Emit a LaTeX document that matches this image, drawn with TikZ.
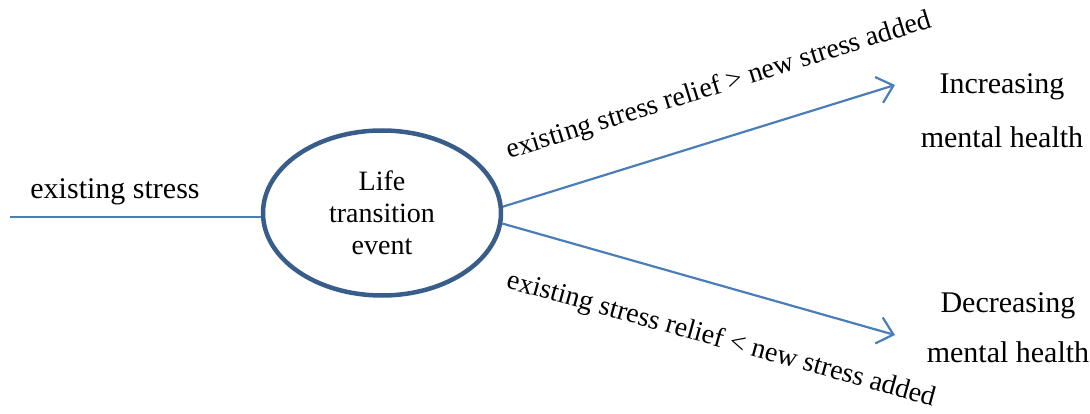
\documentclass[tikz,border=0pt]{standalone}
\usepackage{fontspec}
\setmainfont{Liberation Serif}
\usetikzlibrary{shapes.geometric,arrows.meta}
\definecolor{linec}{HTML}{4A7EBB}
\definecolor{ellc}{HTML}{385D8A}
\begin{document}
\begin{tikzpicture}[x=1pt,y=-1pt,
  conn/.style={draw=linec,line width=2.2pt},
  arr/.style={conn,-{Straight Barb[length=15pt,width=27pt]}},
  lbl/.style={font=\fontsize{30}{36}\selectfont,inner sep=0pt},
  rlbl/.style={font=\fontsize{28}{34}\selectfont,inner sep=0pt,anchor=base},
  event/.style={ellipse,draw=ellc,line width=4.5pt,minimum width=238pt,minimum height=165pt,
    inner sep=0pt,align=center,font=\fontsize{28}{32}\selectfont}]
\useasboundingbox (0,0) rectangle (1090,414);
\node[event] (ev) at (382,213) {Life\\transition\\event};
\coordinate (src) at (10,217);
\node[lbl,anchor=base] (es) at (115,199) {existing stress};
\draw[conn] (src) -- (src -| ev.west);
\node[lbl,align=center,font=\fontsize{30}{54}\selectfont] (inc) at (1002,110.5) {Increasing\\mental health};
\node[lbl,align=center,font=\fontsize{30}{50}\selectfont] (dec) at (1008,327.5) {Decreasing\\mental health};
\coordinate (inctip) at (895,85);
\coordinate (dectip) at (895,335);
\draw[arr] (ev.3) -- (inctip);
\draw[arr] (ev.-5) -- (dectip);
\node[rlbl,rotate=17.3] (up) at (721,93) {existing stress relief > new stress added};
\node[rlbl,rotate=-15.5] (down) at (719,347) {existing stress relief < new stress added};
\end{tikzpicture}
\end{document}
